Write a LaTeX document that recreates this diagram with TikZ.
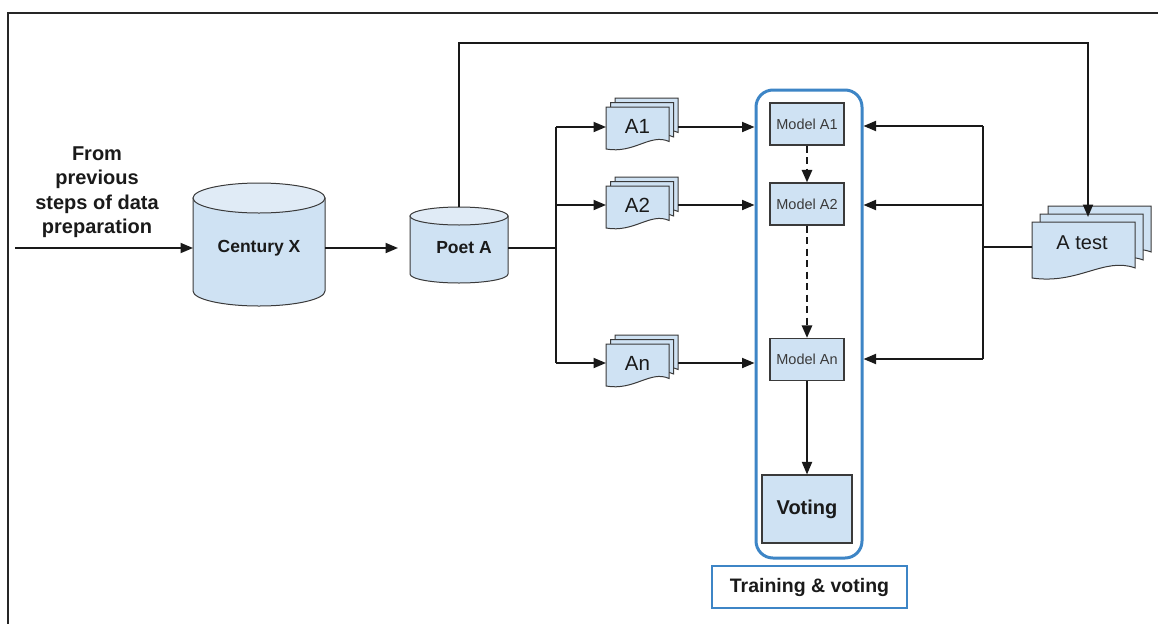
\documentclass[tikz,border=0pt]{standalone}
\usepackage{fontspec}
\setmainfont{Liberation Sans}
\usetikzlibrary{arrows.meta}
\definecolor{paleblue}{HTML}{CFE2F3}
\definecolor{paletop}{HTML}{E0EBF6}
\definecolor{groupblue}{HTML}{3D85C6}
\definecolor{inkgray}{HTML}{3A3A3A}
\definecolor{textink}{HTML}{1A1A1A}

% one sheet of a document stack: left, top, width, height (wavy bottom edge)
\newcommand\docsheet[4]{%
  \filldraw[sheetstyle] (#1,#2) -- ({#1+#3},#2) -- ({#1+#3},{#2+0.82*#4})
    .. controls ({#1+0.7*#3},{#2+0.62*#4}) and ({#1+0.45*#3},{#2+1.12*#4}) ..
    (#1,{#2+#4}) -- cycle;}
% three stacked sheets: front left, front top, width, height, offset
\newcommand\docstack[5]{%
  \docsheet{#1+2*#5}{#2-2*#5}{#3}{#4}%
  \docsheet{#1+#5}{#2-#5}{#3}{#4}%
  \docsheet{#1}{#2}{#3}{#4}}
% upright drum: left, top, right, bottom, half height of the end ellipse
\newcommand\drum[5]{%
  \filldraw[drumstyle] (#1,{#2+#5}) -- (#1,{#4-#5})
    arc[start angle=180, end angle=360, x radius={0.5*(#3-#1)*1pt}, y radius={#5*1pt}]
    -- (#3,{#2+#5}) -- cycle;
  \filldraw[drumstyle, fill=paletop] ({0.5*(#1+#3)},{#2+#5})
    ellipse[x radius={0.5*(#3-#1)*1pt}, y radius={#5*1pt}];}

\begin{document}
\begin{tikzpicture}[x=1pt, y=-1pt,
  conn/.style={line width=1.9pt, draw=black!90},
  arr/.style={conn, -{Triangle[length=12.5pt, width=10pt]}},
  dasharr/.style={arr, line width=2.6pt, dash pattern=on 7pt off 4.5pt},
  sheetstyle/.style={draw=inkgray, line width=1pt, fill=paleblue},
  drumstyle/.style={draw=inkgray, line width=1pt, fill=paleblue},
  anchorbox/.style={draw=none, inner sep=0pt, outer sep=0pt},
  boldlabel/.style={font=\bfseries\fontsize{17.5}{20}\selectfont, text=textink},
  doclabel/.style={font=\fontsize{20.5}{22}\selectfont, text=textink},
  modelbox/.style={draw=inkgray, line width=1.1pt, fill=paleblue, inner sep=0pt,
    minimum width=74pt, minimum height=42pt, font=\fontsize{14.5}{16}\selectfont, text=inkgray},
]
\useasboundingbox (0,0) rectangle (1158,624);
\fill[white] (0,0) rectangle (1158,624);

% outer frame
\draw[line width=2pt, draw=black!85] (1158,13) -- (8,13) -- (8,624);

% input text
\node[font=\bfseries\fontsize{20}{24.5}\selectfont, text=textink, align=center]
  (from) at (97,192) {From\\previous\\steps of data\\preparation};
\coordinate (src) at (15,248);

% data stores
\drum{193}{183}{325}{306}{15}
\node[anchorbox, boldlabel, minimum width=132pt, minimum height=130pt] (cx) at (259,248) {Century X};
\drum{410}{207}{508}{283}{9}
\node[anchorbox, minimum width=98pt, minimum height=82pt] (pa) at (459,248) {};
\node[boldlabel] (pat) at (464,248) {Poet A};

% training sets
\docstack{606}{107}{63}{42}{4.5}
\node[anchorbox, minimum width=72pt, minimum height=40pt] (a1) at (642,127) {};
\node[doclabel] (a1t) at (637.5,126) {A1};
\docstack{606}{186}{63}{42}{4.5}
\node[anchorbox, minimum width=72pt, minimum height=40pt] (a2) at (642,205) {};
\node[doclabel] (a2t) at (637.5,205) {A2};
\docstack{606}{344}{63}{42}{4.5}
\node[anchorbox, minimum width=72pt, minimum height=40pt] (an) at (642,363) {};
\node[doclabel] (ant) at (637.5,363) {An};

% test set
\docstack{1032}{222}{103}{56}{8}
\node[anchorbox, minimum width=120pt, minimum height=50pt] (at) at (1092,247) {};
\node[doclabel, font=\fontsize{20}{22}\selectfont] (att) at (1082,243) {A test};

% training and voting group
\node[draw=groupblue, line width=3pt, rounded corners=17pt, minimum width=106pt,
  minimum height=468pt, inner sep=0pt] (grp) at (809,324) {};
\node[modelbox] (m1) at (807,124) {Model A1};
\node[modelbox] (m2) at (807,204) {Model A2};
\node[modelbox] (mn) at (807,359.5) {Model An};
\node[draw=inkgray, line width=1.1pt, fill=paleblue, inner sep=0pt, minimum width=90pt,
  minimum height=68pt, font=\bfseries\fontsize{20}{22}\selectfont, text=textink]
  (vote) at (807,509) {Voting};
\node[draw=groupblue, line width=2pt, fill=white, inner sep=0pt, minimum width=195pt,
  minimum height=42pt, font=\bfseries\fontsize{19.5}{22}\selectfont, text=textink]
  (tvlab) at (809.5,587) {Training \& voting};

% flow into the stores
\draw[arr] (src) -- (cx.west);
\draw[arr, shorten >=12pt] (cx.east) -- (pa.west);

% split of poet data
\coordinate (ltop) at (556,127);
\coordinate (lmid) at (556,205);
\coordinate (lbot) at (556,363);
\draw[conn] (pa.east) -- (pa.east -| ltop);
\draw[conn] (ltop) -- (lbot);
\draw[arr] (ltop) -- (a1.west);
\draw[arr] (lmid) -- (a2.west);
\draw[arr] (lbot) -- (an.west);

% training sets into the models
\draw[arr] (a1.east) -- (a1.east -| grp.west);
\draw[arr] (a2.east) -- (a2.east -| grp.west);
\draw[arr] (an.east) -- (an.east -| grp.west);

% model chain
\draw[dasharr] (m1.south) -- (m2.north);
\draw[dasharr] (m2.south) -- (mn.north);
\draw[arr] (mn.south) -- (vote.north);

% test set path
\coordinate (tl) at (459,43);
\coordinate (atin) at (1088,217);
\draw[arr] (pa.north) -- (tl) -| (atin);
\coordinate (rtop) at (983,126);
\coordinate (rmid) at (983,205);
\coordinate (rbot) at (983,359);
\draw[conn] (at.west) -- (at.west -| rtop);
\draw[conn] (rtop) -- (rbot);
\draw[arr] (rtop) -- (rtop -| grp.east);
\draw[arr] (rmid) -- (rmid -| grp.east);
\draw[arr] (rbot) -- (rbot -| grp.east);
\end{tikzpicture}
\end{document}
